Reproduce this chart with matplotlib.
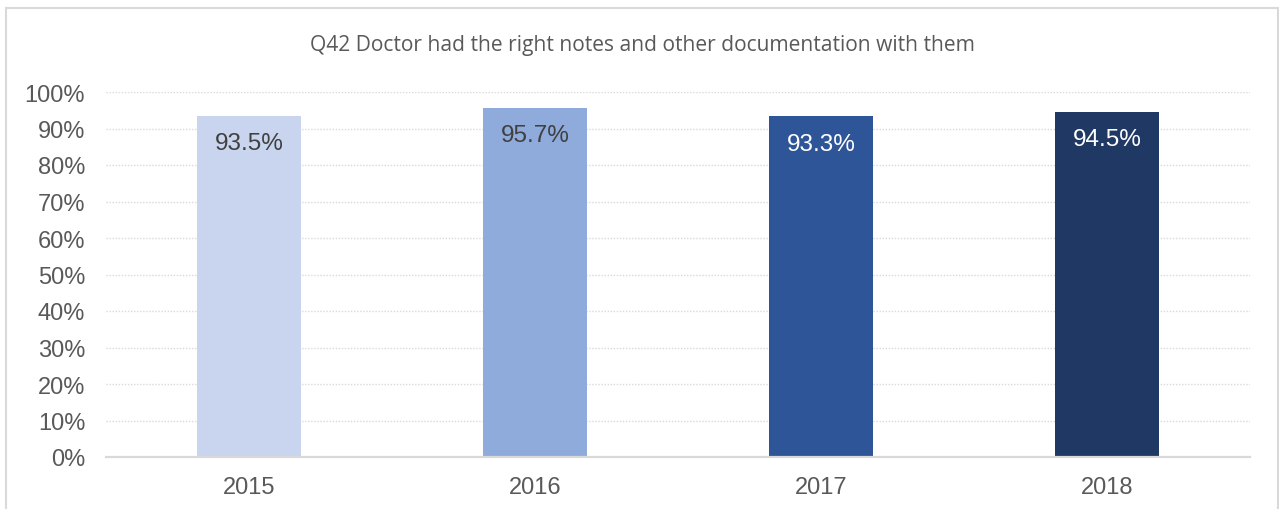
import matplotlib.pyplot as plt
from matplotlib.patches import Rectangle

years = ["2015", "2016", "2017", "2018"]
scores = [93.5, 95.7, 93.3, 94.5]
bar_colors = ["#C9D5EE", "#8EABDC", "#2E5597", "#203864"]
label_colors = ["#404040", "#404040", "#FFFFFF", "#FFFFFF"]
title = "Q42 Doctor had the right notes and other documentation with them"

plt.rcParams['font.family'] = ['Liberation Sans', 'DejaVu Sans']

fig = plt.figure(figsize=(12.79, 5.10), dpi=100)
# light chart frame
fig.patches.append(Rectangle((6 / 1279, -0.1), 1272 / 1279, 1.1 - 9 / 510,
                             transform=fig.transFigure, fill=False,
                             edgecolor="#D9D9D9", linewidth=1.5))

ax = fig.add_axes([106 / 1279, 1 - 458 / 510, 1144 / 1279, 365 / 510])
x = range(len(years))
bars = ax.bar(x, scores, width=0.367, color=bar_colors, zorder=2)

for b, v, c in zip(bars, scores, label_colors):
    ax.annotate(f"{v:.1f}%", (b.get_x() + b.get_width() / 2, v),
                xytext=(0, -19.5), textcoords="offset points",
                ha="center", va="center", fontsize=17.5, color=c)

ax.set_xlim(-0.5, 3.5)
ax.set_ylim(0, 100)
ax.set_yticks(range(0, 101, 10))
ax.set_yticklabels([f"{t}%" for t in range(0, 101, 10)])
ax.set_xticks(list(x))
ax.set_xticklabels(years)
ax.tick_params(axis="both", length=0, labelsize=17, labelcolor="#595959")
ax.tick_params(axis="y", pad=15)
ax.tick_params(axis="x", pad=14)

ax.grid(axis="y", color="#D9D9D9", linestyle=(0, (1, 1.2)), linewidth=1.0, zorder=0)
for s in ["top", "right", "left"]:
    ax.spines[s].set_visible(False)
ax.spines["bottom"].set_color("#D9D9D9")
ax.spines["bottom"].set_linewidth(1.6)
ax.spines["bottom"].set_zorder(3)

fig.text(642 / 1279, 1 - 45 / 510, title, ha="center", va="center",
         fontsize=15.1, color="#595959", family=["Open Sans", "DejaVu Sans"])

fig.savefig("out.png", dpi=100)
